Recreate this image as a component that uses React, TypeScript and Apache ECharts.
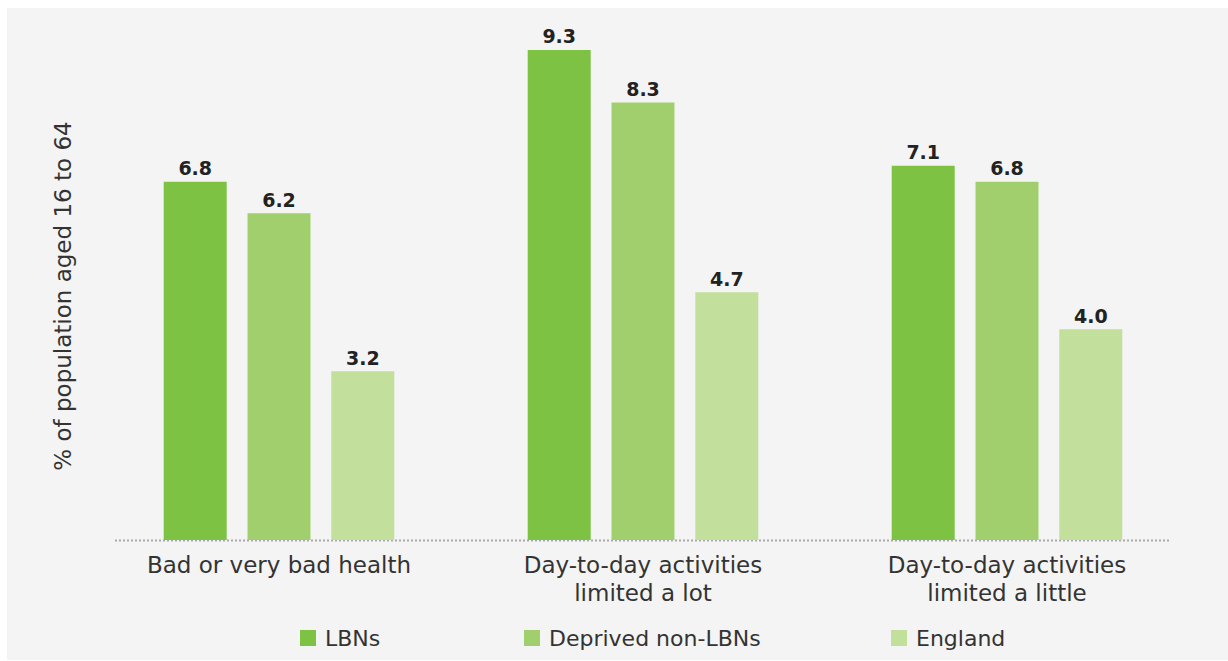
import React, { useEffect, useRef } from "react";
import * as echarts from "echarts";

const categories = [
  "Bad or very bad health",
  "Day-to-day activities\nlimited a lot",
  "Day-to-day activities\nlimited a little",
];
const seriesNames = ["LBNs", "Deprived non-LBNs", "England"];
const lbnValues = [6.8, 9.3, 7.1];
const deprivedValues = [6.2, 8.3, 6.8];
const englandValues = [3.2, 4.7, 4.0];
const yAxisTitle = "% of population aged 16 to 64";

const colors = ["#7dc242", "#a1cf6e", "#c2e09c"];
const FONT = "DejaVu Sans";

export default function App() {
  const ref = useRef<HTMLDivElement>(null);

  useEffect(() => {
    document.body.style.margin = "0";
    if (!ref.current) return;
    const chart = echarts.init(ref.current, undefined, { renderer: "svg" });
    const values = [lbnValues, deprivedValues, englandValues];
    const legendLefts = [295, 519, 886];

    chart.setOption({
      animation: false,
      backgroundColor: "#ffffff",
      textStyle: { fontFamily: FONT },
      grid: { left: 97, right: 39, top: 13, bottom: 121 },
      graphic: [
        {
          type: "rect",
          z: -10,
          silent: true,
          shape: { x: 7, y: 8, width: 1221, height: 652 },
          style: { fill: "#f4f4f4" },
        },
        {
          type: "line",
          z: 0,
          silent: true,
          shape: { x1: 115, y1: 540.5, x2: 1171, y2: 540.5 },
          style: { stroke: "#a9a9a9", lineWidth: 2, lineDash: [2, 2] },
        },
        {
          type: "text",
          x: 63,
          y: 296,
          rotation: Math.PI / 2,
          style: {
            text: yAxisTitle,
            fontFamily: FONT,
            fontSize: 23,
            fill: "#333333",
            align: "center",
            verticalAlign: "middle",
          },
        },
      ],
      legend: seriesNames.map((name, i) => ({
        data: [name],
        left: legendLefts[i],
        top: 622,
        icon: "rect",
        itemWidth: 16,
        itemHeight: 16,
        selectedMode: false,
        textStyle: {
          fontFamily: FONT,
          fontSize: 22,
          color: "#333333",
          padding: [0, 0, 0, 4],
        },
      })),
      xAxis: {
        type: "category",
        data: categories,
        axisLine: { show: false },
        axisTick: { show: false },
        axisLabel: {
          fontFamily: FONT,
          fontSize: 23,
          color: "#333333",
          lineHeight: 28,
          margin: 11,
          interval: 0,
        },
      },
      yAxis: {
        type: "value",
        min: 0,
        max: 10,
        show: false,
        splitLine: { show: false },
      },
      series: seriesNames.map((name, i) => ({
        name,
        type: "bar",
        data: values[i],
        barWidth: 63,
        barGap: "33%",
        itemStyle: { color: colors[i] },
        label: {
          show: true,
          position: "top",
          distance: 4,
          fontFamily: FONT,
          fontWeight: "bold",
          fontSize: 19,
          color: "#222222",
          formatter: (p: any) => Number(p.value).toFixed(1),
        },
      })),
    });

    return () => chart.dispose();
  }, []);

  return <div ref={ref} style={{ width: 1228, height: 661 }} />;
}
